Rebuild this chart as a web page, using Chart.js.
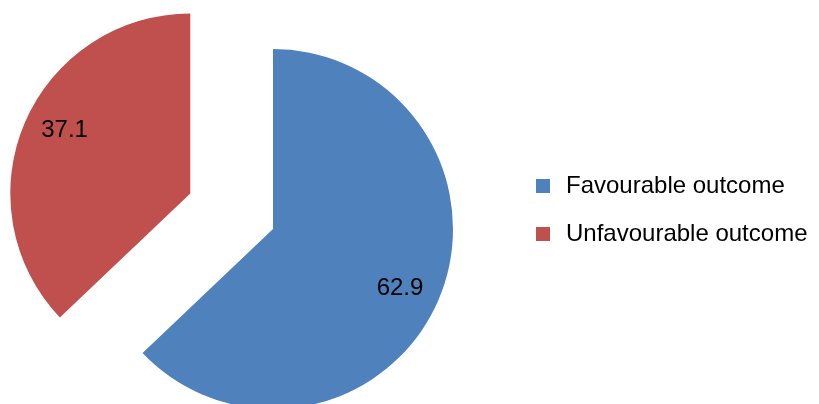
<!DOCTYPE html>
<html>
<head>
<meta charset="utf-8">
<script src="https://cdn.jsdelivr.net/npm/chart.js@4"></script>
<style>
  html, body { margin: 0; padding: 0; background: #fff; }
  #wrap { width: 819px; height: 404px; }
</style>
</head>
<body>
<div id="wrap"><canvas id="outcomeChart"></canvas></div>
<script>
// data
const outcomeLabels = ['Favourable outcome', 'Unfavourable outcome'];
const outcomePercent = [62.9, 37.1];
const sliceColors = ['#4F81BD', '#C0504D'];
const explodeOffsets = [0, 360]; // chart.js moves a slice by offset / 4

const FONT = '"Liberation Sans", Arial, sans-serif';

// chart.js grows an exploded slice's radius a bit and trims its angles,
// undo that so the red slice keeps the same size as the blue one
const keepSliceShape = {
  id: 'keepSliceShape',
  afterDatasetUpdate(chart, args) {
    const offsets = chart.data.datasets[args.index].offset || [];
    args.meta.data.forEach((arc, i) => {
      const shift = (offsets[i] || 0) / 4;
      if (!shift || !isFinite(arc.outerRadius)) return;
      const fix = shift * (1 - Math.sin(Math.min(Math.PI, arc.circumference)));
      arc.outerRadius -= fix;
      const trim = fix / Math.PI / (arc.outerRadius + fix) / 2;
      arc.startAngle -= trim;
      arc.endAngle += trim;
    });
  }
};

// value labels inside the slices
const sliceLabels = {
  id: 'sliceLabels',
  afterDatasetsDraw(chart) {
    const ctx = chart.ctx;
    const ds = chart.data.datasets[0];
    const meta = chart.getDatasetMeta(0);
    const r = meta.controller.outerRadius;
    if (!isFinite(r)) return;
    ctx.save();
    ctx.font = '24px ' + FONT;
    ctx.fillStyle = '#000';
    ctx.textAlign = 'center';
    ctx.textBaseline = 'middle';
    meta.data.forEach((arc, i) => {
      const mid = (arc.startAngle + arc.endAngle) / 2 + 0.035;
      const shift = (ds.offset[i] || 0) / 4;
      const dist = shift + r * 0.78;
      ctx.fillText(ds.data[i].toFixed(1), arc.x + Math.cos(mid) * dist, arc.y + Math.sin(mid) * dist);
    });
    ctx.restore();
  }
};

// legend on the right, drawn by hand so the pie keeps its place
const sideLegend = {
  id: 'sideLegend',
  afterDraw(chart) {
    const ctx = chart.ctx;
    const colors = chart.data.datasets[0].backgroundColor;
    ctx.save();
    ctx.font = '24px ' + FONT;
    ctx.textBaseline = 'middle';
    chart.data.labels.forEach((label, i) => {
      const y = 186 + i * 48;
      ctx.fillStyle = colors[i];
      ctx.fillRect(536, y - 7, 14, 14);
      ctx.fillStyle = '#000';
      ctx.fillText(label, 566, y);
    });
    ctx.restore();
  }
};

new Chart(document.getElementById('outcomeChart'), {
  type: 'pie',
  data: {
    labels: outcomeLabels,
    datasets: [{
      data: outcomePercent,
      backgroundColor: sliceColors,
      offset: explodeOffsets,
      borderWidth: 0,
      clip: false
    }]
  },
  options: {
    responsive: true,
    maintainAspectRatio: false,
    animation: false,
    radius: 180,
    // as a percentage, so the big offset (larger than the area) can't turn it into 0/0
    cutout: '0%',
    layout: { padding: { left: 0, right: 273, top: 54, bottom: 0 } },
    plugins: {
      legend: { display: false },
      tooltip: { enabled: false }
    }
  },
  plugins: [keepSliceShape, sliceLabels, sideLegend]
});
</script>
</body>
</html>
